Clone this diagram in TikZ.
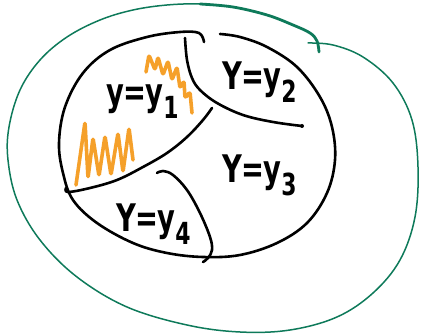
\documentclass[tikz,border=0pt]{standalone}
\usepackage{fontspec}
\setmainfont{DejaVu Sans}
\definecolor{penGreen}{HTML}{0E7A5A}
\definecolor{penOrange}{HTML}{F5A02A}
\newcommand{\lowidx}[1]{\raisebox{-0.32em}{\scalebox{0.8}{#1}}}
\newcommand{\hw}[1]{\scalebox{0.72}[1]{\fontsize{38}{38}\selectfont\bfseries #1}}
\begin{document}
\begin{tikzpicture}[x=1pt,y=-1pt,
  ink/.style={line width=2.6pt,line cap=round,line join=round,black},
  greenthin/.style={line width=1.5pt,line cap=round,penGreen},
  greenthick/.style={line width=2.8pt,line cap=round,penGreen},
  zig/.style={line width=3.6pt,line cap=round,line join=round,rounded corners=1.5pt,penOrange},
  lab/.style={inner sep=0pt,anchor=base west}]
\useasboundingbox (0,0) rectangle (421,336);
% outer green loop
\draw[greenthin] plot[smooth,tension=0.6] coordinates {(308,43) (333,45) (363,57) (393,83) (412,120) (418,167) (415,217) (400,260) (373,293) (337,317) (290,330) (240,332) (187,325) (127,307) (77,277) (40,240) (17,200) (8,160) (9,127) (20,90) (40,60) (67,37) (100,20) (133,10) (167,5) (200,4) (233,7)};
\draw[greenthick] plot[smooth,tension=0.6] coordinates {(200,4) (233,7) (267,15) (293,25) (310,33) (317,41) (319,52)};
% black ellipse
\draw[ink] plot[smooth,tension=0.6] coordinates {(220,34) (240,37) (267,47) (297,67) (320,97) (332,127) (335,160) (327,193) (307,223) (277,243) (240,255) (203,257) (167,253) (133,243) (97,223) (73,200) (63,173) (59,143) (65,107) (83,73) (110,50) (147,37) (180,32) (199,33) (204,42)};
% dividers
\draw[ink] plot[smooth,tension=0.6] coordinates {(185,38) (187,60) (192,78) (200,90) (217,103) (243,115) (273,122) (302,126)};
\fill (302,126) circle (2pt);
\draw[ink] plot[smooth,tension=0.6] coordinates {(212,108) (203,120) (187,137) (167,153) (143,167) (117,180) (90,188) (68,192) (66,188)};
\draw[ink] plot[smooth,tension=0.6] coordinates {(157,173) (163,171) (173,175) (187,190) (200,213) (210,237) (212,250) (208,258) (203,262)};
% orange scribbles
\draw[zig] (146,72) -- (149,55) -- (155,70) -- (158,57) -- (163,75) -- (168,61) -- (172,80) -- (177,67) -- (180,88) -- (184,81) -- (185,98) -- (190,92) -- (192,113);
\draw[zig] (76,185) -- (85,122) -- (88,178) -- (93,138) -- (99,176) -- (105,136) -- (111,175) -- (118,133) -- (123,172) -- (129,128) -- (133,160);
% labels
\node[lab] (l1) at (106,106) {\hw{y\kern-1pt=\kern-1pt y\lowidx{1}}};
\node[lab] (l2) at (222,90) {\hw{Y\kern-1pt=\kern-1pt y\lowidx{2}}};
\node[lab] (l3) at (222,183) {\hw{Y\kern-1pt=\kern-1pt y\lowidx{3}}};
\node[lab] (l4) at (116,232) {\hw{Y\kern-1pt=\kern-1pt y\lowidx{4}}};
\end{tikzpicture}
\end{document}
